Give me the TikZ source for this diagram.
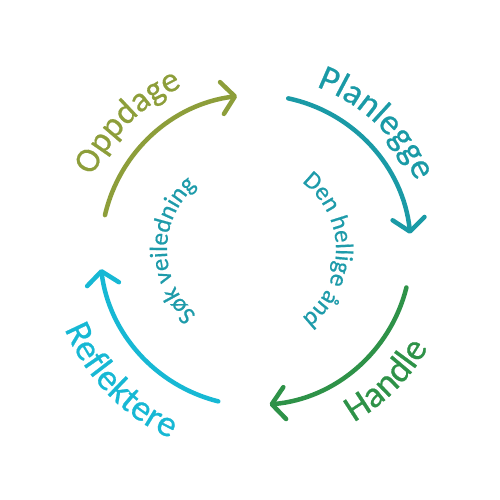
\documentclass[tikz,border=0pt]{standalone}
\usepackage{fontspec}
\setmainfont{Carlito}
\newfontfamily\lblfont{Carlito}[FakeBold=0.6]
\usetikzlibrary{arrows.meta,decorations.text}
\definecolor{colOpp}{HTML}{8D9E3A}
\definecolor{colPlan}{HTML}{1A9AA6}
\definecolor{colHand}{HTML}{2E9248}
\definecolor{colRef}{HTML}{17B8D4}
\definecolor{colInner}{HTML}{1E9BAA}
\tikzset{
  cyclearc/.style={line width=4.5pt, line cap=round,
    -{Straight Barb[length=13pt,width=32pt,round]}},
  curvedlbl/.style={decorate, decoration={text along path, text align=center, text={#1}}},
}
\begin{document}
\begin{tikzpicture}[x=1pt,y=1pt]
\useasboundingbox (0,0) rectangle (500,500);
\coordinate (C) at (256,250);
\coordinate (Ci) at (252,250);
% arcs
\draw[cyclearc, colOpp] ([shift={(167:155)}]C) arc[start angle=167, end angle=97, radius=155];
\draw[cyclearc, colPlan] ([shift={(78:155)}]C) arc[start angle=78, end angle=6, radius=155];
\draw[cyclearc, colHand] ([shift={(-14:155)}]C) arc[start angle=-14, end angle=-85, radius=155];
\draw[cyclearc, colRef] ([shift={(256:156)}]C) arc[start angle=256, end angle=187, radius=156];
% outer labels
\path[curvedlbl={|\color{colOpp}\lblfont\fontsize{35}{35}\selectfont|Oppdage}]
  ([shift={(175:179)}]C) arc[start angle=175, end angle=95, radius=179];
\path[curvedlbl={|\color{colPlan}\lblfont\fontsize{36}{36}\selectfont|Planlegge}]
  ([shift={(90:174)}]C) arc[start angle=90, end angle=3, radius=174];
\path[curvedlbl={|\color{colHand}\lblfont\fontsize{37}{37}\selectfont|Handle}]
  ([shift={(-90:198)}]C) arc[start angle=-90, end angle=0, radius=198];
\path[curvedlbl={|\color{colRef}\lblfont\fontsize{37}{37}\selectfont|Reflektere}]
  ([shift={(180:207)}]C) arc[start angle=180, end angle=268, radius=207];
% inner labels
\path[curvedlbl={|\color{colInner}\lblfont\fontsize{25}{25}\selectfont|Søk veiledning}]
  ([shift={(255:85)}]Ci) arc[start angle=255, end angle=105, radius=85];
\path[curvedlbl={|\color{colInner}\lblfont\fontsize{25}{25}\selectfont|Den hellige ånd}]
  ([shift={(75:84)}]Ci) arc[start angle=75, end angle=-75, radius=84];
\end{tikzpicture}
\end{document}
